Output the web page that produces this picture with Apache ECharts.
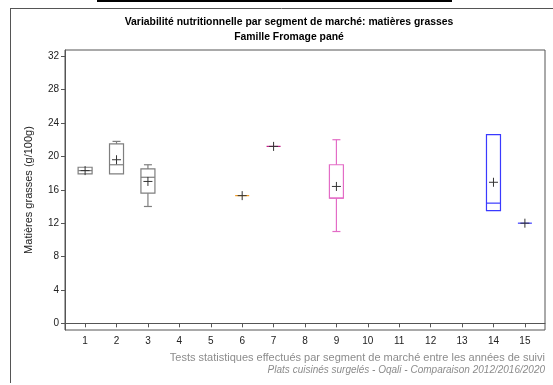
<!DOCTYPE html>
<html>
<head>
<meta charset="utf-8">
<script src="https://cdn.jsdelivr.net/npm/echarts@6/dist/echarts.min.js"></script>
<style>
html, body { margin: 0; padding: 0; background: #fff; }
#main { width: 553px; height: 385px; }
</style>
</head>
<body>
<div id="main"></div>
<script>
// segments de marché (axe x) et graduations de l'axe y
var segments = [1, 2, 3, 4, 5, 6, 7, 8, 9, 10, 11, 12, 13, 14, 15];
var yTicks = [0, 4, 8, 12, 16, 20, 24, 28, 32];

// boîtes : segment, min, q1, médiane, q3, max, moyenne
var boxSeg    = [1,     2,     3,     6,     7,     9,     14,    15];
var boxMin    = [17.9,  17.9,  14.0,  15.3,  21.2,  11.0,  13.5,  12.0];
var boxQ1     = [17.9,  17.9,  15.6,  15.3,  21.2,  15.0,  13.5,  12.0];
var boxMed    = [18.3,  19.0,  17.5,  15.3,  21.2,  15.0,  14.4,  12.0];
var boxQ3     = [18.7,  21.5,  18.5,  15.3,  21.2,  19.0,  22.6,  12.0];
var boxMax    = [18.7,  21.8,  19.0,  15.3,  21.2,  22.0,  22.6,  12.0];
var boxMean   = [18.3,  19.6,  17.0,  15.3,  21.2,  16.4,  16.9,  12.0];
var boxColor  = ['#7f7f7f', '#7f7f7f', '#7f7f7f', '#f39a1e', '#c4228a', '#e36cc6', '#3a3aff', '#3a3aff'];

var boxData = boxSeg.map(function (s, i) {
	return [s, boxMin[i], boxQ1[i], boxMed[i], boxQ3[i], boxMax[i], boxMean[i], i];
});

var myChart = echarts.init(document.getElementById('main'));

function renderBox(params, api) {
	var x = api.value(0);
	var idx = api.value(7);
	var col = boxColor[idx];
	var pMin = api.coord([x, api.value(1)]);
	var pQ1 = api.coord([x, api.value(2)]);
	var pMed = api.coord([x, api.value(3)]);
	var pQ3 = api.coord([x, api.value(4)]);
	var pMax = api.coord([x, api.value(5)]);
	var pMean = api.coord([x, api.value(6)]);
	var cx = pMed[0];
	var hw = 7, cap = 4, m = 4.5;
	var ls = { stroke: col, lineWidth: 1.2, fill: null };
	var children = [];
	if (pQ1[1] - pQ3[1] > 0.5) {
		children.push({ type: 'rect', shape: { x: cx - hw, y: pQ3[1], width: hw * 2, height: pQ1[1] - pQ3[1] }, style: ls });
	}
	children.push({ type: 'line', shape: { x1: cx - hw, y1: pMed[1], x2: cx + hw, y2: pMed[1] }, style: ls });
	if (pMax[1] < pQ3[1] - 0.5) {
		children.push({ type: 'line', shape: { x1: cx, y1: pQ3[1], x2: cx, y2: pMax[1] }, style: ls });
		children.push({ type: 'line', shape: { x1: cx - cap, y1: pMax[1], x2: cx + cap, y2: pMax[1] }, style: ls });
	}
	if (pMin[1] > pQ1[1] + 0.5) {
		children.push({ type: 'line', shape: { x1: cx, y1: pQ1[1], x2: cx, y2: pMin[1] }, style: ls });
		children.push({ type: 'line', shape: { x1: cx - cap, y1: pMin[1], x2: cx + cap, y2: pMin[1] }, style: ls });
	}
	var ms = { stroke: '#333', lineWidth: 1, fill: null };
	children.push({ type: 'line', shape: { x1: cx - m, y1: pMean[1], x2: cx + m, y2: pMean[1] }, style: ms });
	children.push({ type: 'line', shape: { x1: cx, y1: pMean[1] - m, x2: cx, y2: pMean[1] + m }, style: ms });
	return { type: 'group', children: children };
}

var option = {
	animation: false,
	textStyle: { fontFamily: 'Liberation Sans, Arial, sans-serif' },
	title: [{
		text: 'Variabilité nutritionnelle par segment de marché: matières grasses\nFamille Fromage pané',
		left: 284,
		top: 10,
		textAlign: 'center',
		textStyle: { fontSize: 10.4, fontWeight: 'bold', color: '#000', lineHeight: 15 }
	}],
	grid: { left: 65, right: 8, top: 50, bottom: 55, show: true, borderColor: '#555', borderWidth: 1 },
	xAxis: {
		type: 'value',
		min: 0.36,
		max: 15.64,
		splitLine: { show: false },
		axisLine: { lineStyle: { color: '#555' } },
		axisTick: { customValues: segments, length: 4, lineStyle: { color: '#555' } },
		axisLabel: { customValues: segments, color: '#222', fontSize: 10, margin: 6 }
	},
	yAxis: {
		type: 'value',
		min: -0.8,
		max: 32.75,
		name: 'Matières grasses (g/100g)',
		nameLocation: 'middle',
		nameGap: 31,
		nameTextStyle: { color: '#222', fontSize: 11 },
		splitLine: { show: false },
		axisLine: { show: true, lineStyle: { color: '#555' } },
		axisTick: { show: true, customValues: yTicks, length: 4, lineStyle: { color: '#555' } },
		axisLabel: { customValues: yTicks, color: '#222', fontSize: 10, margin: 6 }
	},
	graphic: [
		{ type: 'line', shape: { x1: 10, y1: 8.5, x2: 553, y2: 8.5 }, style: { stroke: '#555', lineWidth: 1 } },
		{ type: 'line', shape: { x1: 10.5, y1: 8, x2: 10.5, y2: 383 }, style: { stroke: '#555', lineWidth: 1 } },
		{ type: 'line', shape: { x1: 97, y1: 1, x2: 452, y2: 1 }, style: { stroke: '#000', lineWidth: 2 } },
		{ type: 'text', right: 8, top: 352, style: { text: 'Tests statistiques effectués par segment de marché entre les années de suivi', fill: '#8c8c8c', font: '11px Liberation Sans, Arial, sans-serif' } },
		{ type: 'text', right: 8, top: 365, style: { text: 'Plats cuisinés surgelés - Oqali - Comparaison 2012/2016/2020', fill: '#8c8c8c', font: 'italic 10px Liberation Sans, Arial, sans-serif' } }
	],
	series: [{
		type: 'custom',
		renderItem: renderBox,
		encode: { x: 0, y: [1, 5] },
		data: boxData
	}]
};

myChart.setOption(option);
</script>
</body>
</html>
